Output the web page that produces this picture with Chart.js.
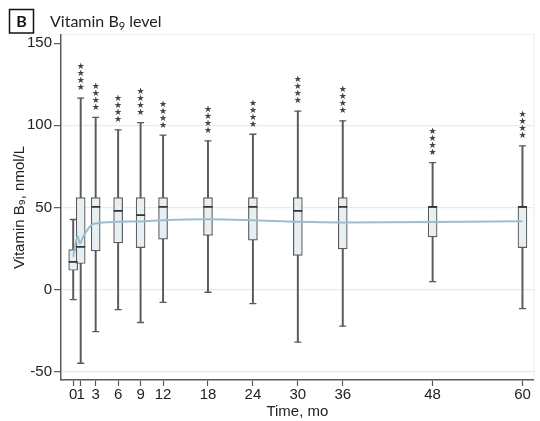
<!DOCTYPE html>
<html>
<head>
<meta charset="utf-8">
<script src="https://cdn.jsdelivr.net/npm/chart.js@4.4.1/dist/chart.umd.min.js"></script>
<style>
  html, body { margin: 0; padding: 0; background: #fff; }
  #wrap { width: 540px; height: 421px; }
</style>
</head>
<body>
<div id="wrap"><canvas id="c" width="540" height="421"></canvas></div>
<script>
// Follow-up visits (months)
const months = [0, 1, 3, 6, 9, 12, 18, 24, 30, 36, 48, 60];
// Box plot summary of vitamin B9 (nmol/L) per visit
const q1 = [11.8, 15.9, 23.6, 28.5, 25.6, 30.7, 33.0, 30.1, 20.9, 24.8, 32.1, 25.6];
const q3 = [24.4, 56, 56, 56, 56, 56, 56, 56, 56, 56, 50.4, 50.4];
const medians = [16.9, 26.0, 50.4, 48.0, 45.4, 50.4, 50.4, 50.4, 48.0, 50.4, 50.4, 50.4];
const whiskerLow = [-6.1, -44.8, -25.5, -12.2, -20.0, -7.8, -1.6, -8.5, -32.0, -22.2, 4.9, -11.6];
const whiskerHigh = [42.7, 116.6, 104.8, 97.3, 101.7, 94.0, 90.5, 94.6, 108.7, 102.7, 77.3, 87.5];
// Significance versus baseline
const significance = ['', '****', '****', '****', '****', '****', '****', '****', '****', '****', '****', '****'];
// Fitted mean trajectory
const trendMonths = [0, 0.6, 0.9, 1.3, 2.4, 3, 6, 9, 12, 18, 24, 30, 36, 48, 60];
const trendValues = [20, 32.5, 28, 32, 39.2, 40.3, 41.3, 41.5, 42.3, 42.9, 42.3, 41.3, 40.9, 41.1, 41.7];
// Axis ticks
const xTicks = [0, 1, 3, 6, 9, 12, 18, 24, 30, 36, 48, 60];
const yTicks = [-50, 0, 50, 100, 150];

const AXIS = '#5a5a5a';
const TEXT = '#222';
const SANS = 'Arial, "Liberation Sans", sans-serif';
const TICK_FONT = { family: SANS, size: 15 };

const headerPlugin = {
  id: 'header',
  beforeDraw(chart) {
    const ctx = chart.ctx;
    const a = chart.chartArea;
    ctx.save();
    // faint frame of the plot region
    ctx.strokeStyle = '#e9f0f0';
    ctx.lineWidth = 1;
    ctx.beginPath();
    ctx.moveTo(a.left, a.top - 0.5);
    ctx.lineTo(a.right + 0.5, a.top - 0.5);
    ctx.lineTo(a.right + 0.5, a.bottom);
    ctx.stroke();
    // panel letter
    ctx.strokeStyle = '#111';
    ctx.lineWidth = 1.5;
    ctx.strokeRect(9.5, 9.5, 24, 23.5);
    ctx.fillStyle = '#111';
    ctx.font = 'bold 16px Lato, "Open Sans", sans-serif';
    ctx.textAlign = 'center';
    ctx.textBaseline = 'alphabetic';
    ctx.fillText('B', 21.5, 27);
    // title with subscript
    ctx.textAlign = 'left';
    ctx.fillStyle = '#222';
    ctx.font = '16px Lato, "Open Sans", sans-serif';
    let x = 50;
    ctx.fillText('Vitamin B', x, 27);
    x += ctx.measureText('Vitamin B').width;
    ctx.font = '11px Lato, "Open Sans", sans-serif';
    ctx.fillText('9', x, 30);
    x += ctx.measureText('9').width;
    ctx.font = '16px Lato, "Open Sans", sans-serif';
    ctx.fillText(' level', x, 27);
    ctx.restore();
  }
};

const starsPlugin = {
  id: 'stars',
  afterDatasetsDraw(chart) {
    const ctx = chart.ctx;
    const xs = chart.scales.x, ys = chart.scales.y;
    ctx.save();
    ctx.fillStyle = '#444';
    ctx.font = '9px "DejaVu Sans", sans-serif';
    ctx.textAlign = 'center';
    ctx.textBaseline = 'middle';
    months.forEach((m, i) => {
      const label = significance[i];
      if (!label) return;
      const px = xs.getPixelForValue(m);
      const top = ys.getPixelForValue(whiskerHigh[i]);
      for (let k = 0; k < label.length; k++) {
        ctx.fillText('\u2605', px, top - 10 - k * 7);
      }
    });
    ctx.restore();
  }
};

const boxData = months.map((m, i) => ({ x: m, y: [q1[i], q3[i]] }));
const whiskerData = months.map((m, i) => ({ x: m, y: [whiskerLow[i], whiskerHigh[i]] }));
const medianData = months.map((m, i) => ({ x: m, y: medians[i] }));
const capData = months.flatMap((m, i) => [{ x: m, y: whiskerLow[i] }, { x: m, y: whiskerHigh[i] }]);
const trendData = trendMonths.map((m, i) => ({ x: m, y: trendValues[i] }));

new Chart(document.getElementById('c'), {
  type: 'bar',
  data: {
    datasets: [
      {
        type: 'bar', data: whiskerData, grouped: false, order: 6,
        backgroundColor: AXIS, borderWidth: 0, barThickness: 1.3
      },
      {
        type: 'bar', data: boxData, grouped: false, order: 5,
        backgroundColor: '#e7eff3', borderColor: AXIS, borderWidth: 1.2,
        borderSkipped: false, barThickness: 9
      },
      {
        type: 'scatter', data: capData, order: 4,
        pointStyle: 'line', radius: 3.5, borderColor: AXIS, borderWidth: 1.3,
        backgroundColor: AXIS
      },
      {
        type: 'scatter', data: medianData, order: 3,
        pointStyle: 'line', radius: 4.5, borderColor: '#333', borderWidth: 1.8,
        backgroundColor: '#333'
      },
      {
        type: 'line', data: trendData, order: 1,
        borderColor: '#9bbdd0', borderWidth: 2, pointRadius: 0,
        cubicInterpolationMode: 'monotone', fill: false
      }
    ]
  },
  options: {
    responsive: false,
    animation: false,
    events: [],
    layout: { padding: { left: 0, right: 3, top: 35, bottom: 0 } },
    plugins: { legend: { display: false }, tooltip: { enabled: false } },
    scales: {
      x: {
        type: 'linear', min: -1.63, max: 61.5, offset: false,
        afterBuildTicks(s) { s.ticks = xTicks.map(v => ({ value: v })); },
        afterFit(s) { s.height = 41; },
        grid: { offset: false, drawOnChartArea: false, drawTicks: true, tickLength: 6, tickColor: AXIS, tickWidth: 1.2 },
        border: { color: AXIS, width: 1.5 },
        ticks: { color: TEXT, font: TICK_FONT, padding: 0, autoSkip: false, maxRotation: 0 },
        title: { display: true, text: 'Time, mo', color: TEXT, font: TICK_FONT, padding: { top: -6, bottom: 0 } }
      },
      y: {
        type: 'linear', min: -55, max: 155,
        afterBuildTicks(s) { s.ticks = yTicks.map(v => ({ value: v })); },
        afterFit(s) { s.width = 61; },
        grid: {
          color: ctx => (ctx.tick && ctx.tick.value === 150) ? 'rgba(0,0,0,0)' : '#e3eded',
          lineWidth: 1.3, drawTicks: true, tickLength: 7, tickColor: AXIS, tickWidth: 1.2
        },
        border: { color: AXIS, width: 1.5 },
        ticks: { color: TEXT, font: TICK_FONT, padding: 2 },
        title: { display: true, text: 'Vitamin B\u2089, nmol/L', color: TEXT, font: TICK_FONT, padding: { top: 11, bottom: 0 } }
      }
    }
  },
  plugins: [headerPlugin, starsPlugin]
});
</script>
</body>
</html>
